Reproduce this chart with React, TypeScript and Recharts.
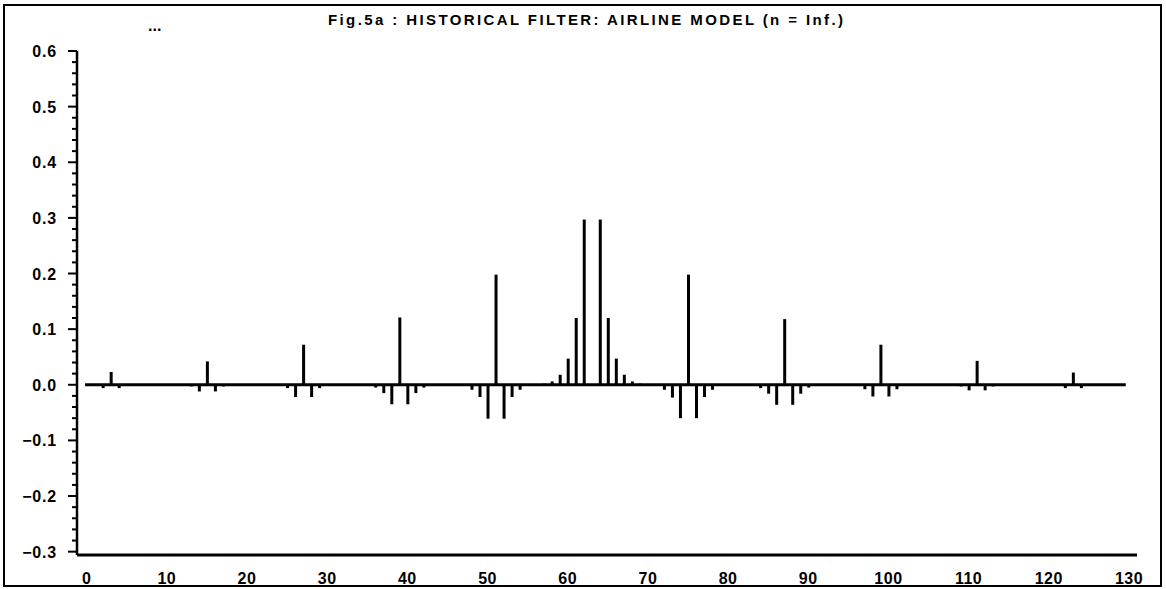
import React from 'react';
import { ComposedChart, Bar, XAxis, YAxis, ReferenceLine } from 'recharts';

const TITLE = 'Fig.5a : HISTORICAL FILTER: AIRLINE MODEL (n = Inf.)';

// lags (x) that carry a non-zero filter weight
const SPIKE_LAGS = [
  2, 3, 4,
  13, 14, 15, 16, 17,
  25, 26, 27, 28, 29,
  36, 37, 38, 39, 40, 41, 42,
  48, 49, 50, 51, 52, 53, 54,
  57, 58, 59, 60, 61, 62, 64, 65, 66, 67, 68, 69,
  72, 73, 74, 75, 76, 77, 78,
  84, 85, 86, 87, 88, 89, 90,
  97, 98, 99, 100, 101,
  109, 110, 111, 112, 113,
  122, 123, 124,
];

// filter weights at those lags
const SPIKE_VALUES = [
  -0.006, 0.023, -0.006,
  -0.003, -0.012, 0.042, -0.012, -0.003,
  -0.006, -0.022, 0.072, -0.022, -0.006,
  -0.005, -0.015, -0.035, 0.121, -0.035, -0.015, -0.005,
  -0.009, -0.022, -0.061, 0.198, -0.061, -0.022, -0.009,
  0.002, 0.006, 0.018, 0.047, 0.12, 0.297, 0.297, 0.12, 0.047, 0.018, 0.006, 0.002,
  -0.009, -0.023, -0.06, 0.198, -0.06, -0.022, -0.009,
  -0.006, -0.016, -0.036, 0.118, -0.036, -0.016, -0.005,
  -0.008, -0.021, 0.072, -0.021, -0.008,
  -0.003, -0.01, 0.043, -0.01, -0.003,
  -0.006, 0.022, -0.006,
];

const X_TICKS = [0, 10, 20, 30, 40, 50, 60, 70, 80, 90, 100, 110, 120, 130];
const Y_MAJOR_TICKS = [-0.3, -0.2, -0.1, 0, 0.1, 0.2, 0.3, 0.4, 0.5, 0.6];
const Y_MINOR_STEPS = [0.02, 0.04, 0.06, 0.08];
const X_DOMAIN = [-1.2, 131];
const Y_DOMAIN = [-0.306, 0.6];
const BASELINE_FROM = -0.2;
const BASELINE_TO = 129.6;

const data = SPIKE_LAGS.map((lag, i) => ({ lag, w: SPIKE_VALUES[i] }));

const yTicks: number[] = [];
Y_MAJOR_TICKS.forEach((t, i) => {
  yTicks.push(t);
  if (i < Y_MAJOR_TICKS.length - 1) {
    Y_MINOR_STEPS.forEach((s) => yTicks.push(Math.round((t + s) * 1000) / 1000));
  }
});

const FONT = '"Liberation Sans", Arial, sans-serif';

const YTick = (props: any) => {
  const { x, y, payload } = props;
  const v = payload.value as number;
  const major = Math.abs(v * 10 - Math.round(v * 10)) < 1e-6;
  const r = Math.round(v * 10) / 10;
  const label = r < 0 ? '\u2212' + Math.abs(r).toFixed(1) : Math.abs(r).toFixed(1);
  return (
    <g>
      <line x1={x - (major ? 9 : 5)} x2={x} y1={y} y2={y} stroke="#000" strokeWidth={2} />
      {major && (
        <text
          x={x - 20}
          y={y}
          dy={6}
          textAnchor="end"
          fontFamily={FONT}
          fontWeight={700}
          fontSize={16}
          letterSpacing={0.8}
          fill="#000"
        >
          {label}
        </text>
      )}
    </g>
  );
};

const XTick = (props: any) => {
  const { x, y, payload } = props;
  return (
    <text
      x={x}
      y={y + 29}
      textAnchor="middle"
      fontFamily={FONT}
      fontWeight={700}
      fontSize={16}
      letterSpacing={0.5}
      fill="#000"
    >
      {payload.value}
    </text>
  );
};

export default function App() {
  return (
    <div style={{ position: 'absolute', left: 0, top: 0, width: 1166, height: 589, background: '#fff' }}>
      <div
        style={{
          position: 'absolute',
          left: 3,
          top: 4,
          width: 1159,
          height: 583,
          border: '2px solid #000',
          boxSizing: 'border-box',
        }}
      />
      <svg
        width={1166}
        height={45}
        style={{ position: 'absolute', left: 0, top: 0, pointerEvents: 'none' }}
      >
        <text x={148} y={31} fontFamily={FONT} fontWeight={700} fontSize={16} fill="#000">
          ...
        </text>
        <text
          x={328}
          y={25}
          fontFamily={FONT}
          fontWeight={700}
          fontSize={15}
          textLength={515}
          lengthAdjust="spacing"
          fill="#000"
        >
          {TITLE}
        </text>
      </svg>
      <div style={{ position: 'absolute', left: 0, top: 0 }}>
        <ComposedChart
          width={1166}
          height={589}
          data={data}
          margin={{ top: 51, right: 29, bottom: 0, left: 0 }}
        >
          <XAxis
            dataKey="lag"
            type="number"
            domain={X_DOMAIN}
            ticks={X_TICKS}
            interval={0}
            allowDataOverflow
            tickSize={0}
            tickMargin={0}
            tickLine={false}
            height={34}
            axisLine={{ stroke: '#000', strokeWidth: 3 }}
            tick={<XTick />}
          />
          <YAxis
            type="number"
            domain={Y_DOMAIN}
            ticks={yTicks}
            interval={0}
            allowDataOverflow
            tickSize={0}
            tickMargin={0}
            tickLine={false}
            width={77}
            axisLine={{ stroke: '#000', strokeWidth: 2.5 }}
            tick={<YTick />}
          />
          <ReferenceLine
            segment={[
              { x: BASELINE_FROM, y: 0 },
              { x: BASELINE_TO, y: 0 },
            ]}
            stroke="#000"
            strokeWidth={3}
          />
          <Bar dataKey="w" fill="#000" barSize={3} isAnimationActive={false} />
        </ComposedChart>
      </div>
    </div>
  );
}
